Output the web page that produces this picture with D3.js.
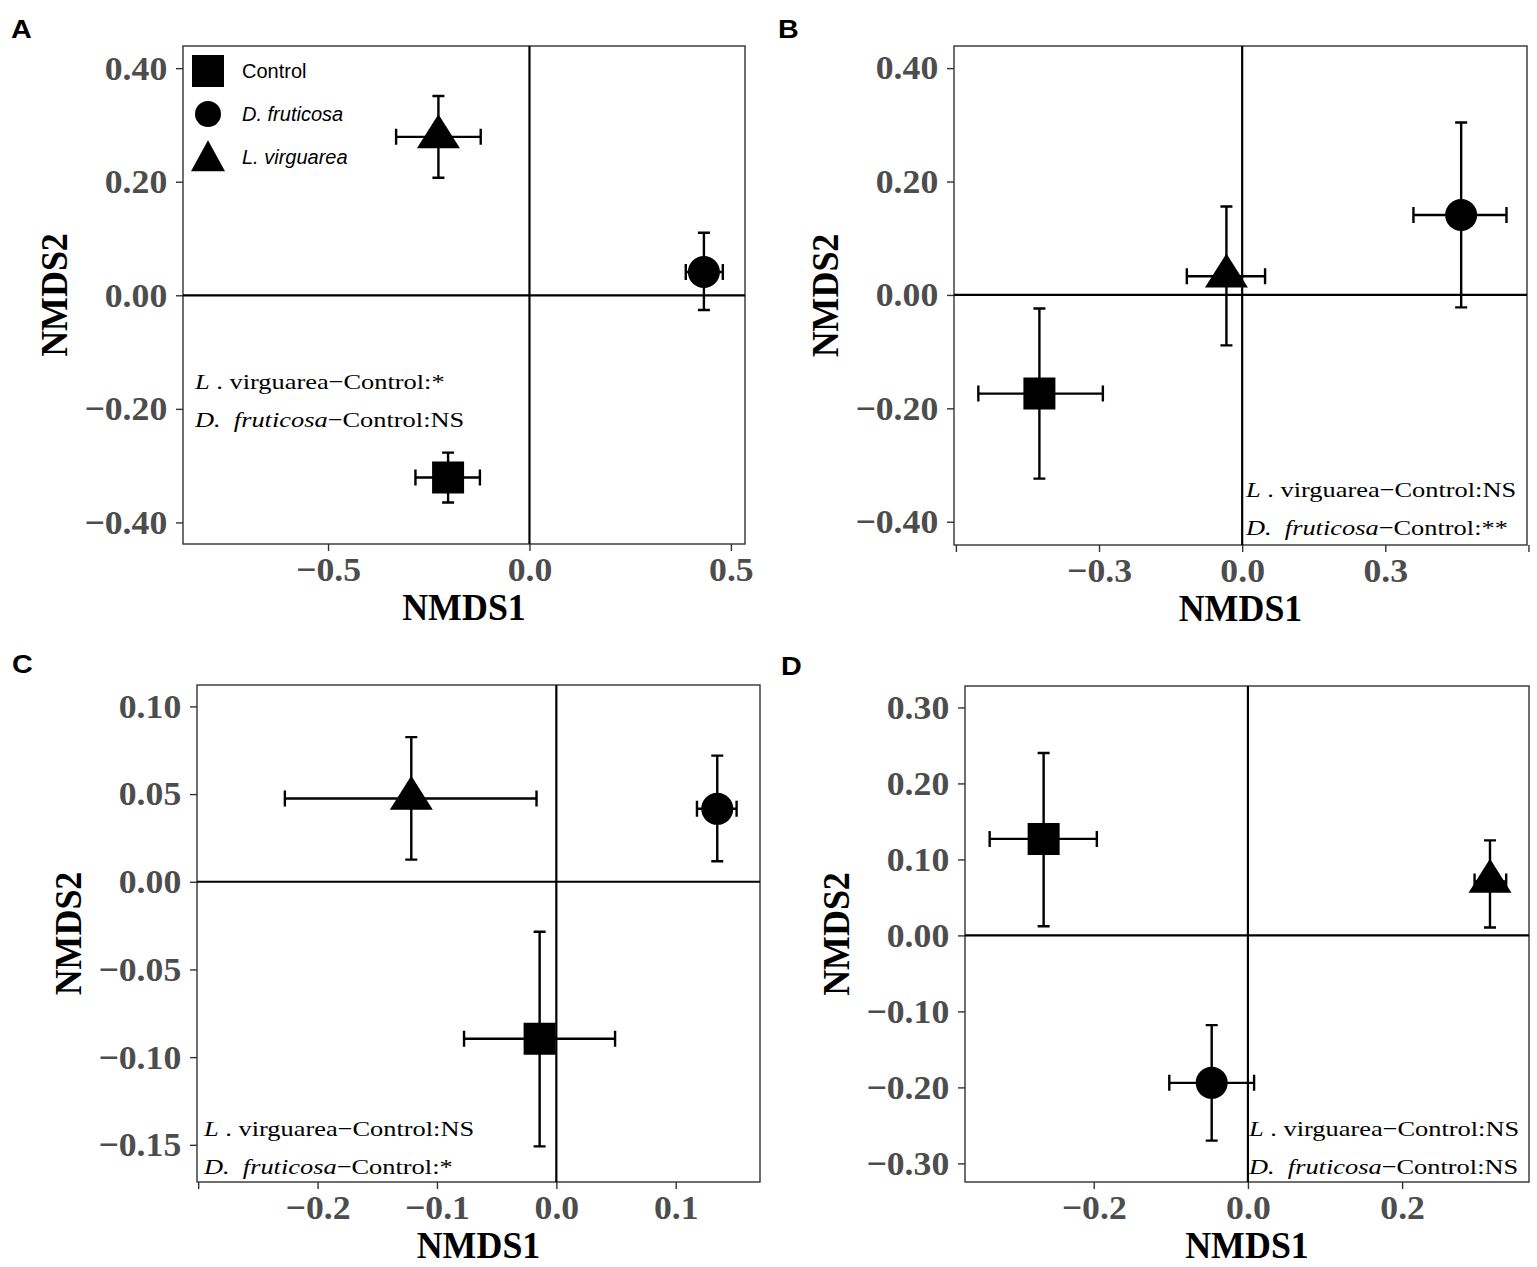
<!DOCTYPE html>
<html lang="en">
<head>
<meta charset="utf-8">
<title>NMDS</title>
<script src="https://d3js.org/d3.v7.min.js"></script>
<style>
  body { margin: 0; background: #fff; }
  .tick text { font-family: "Liberation Serif", "Times New Roman", serif; font-weight: bold; fill: #4d4d4d; }
  .tick line, .domain { stroke: #333; }
</style>
</head>
<body>
<div id="chart"></div>
<script>
"use strict"

// groups in every panel
var groups = ["Control", "D. fruticosa", "L. virguarea"];
var shapes = ["square", "circle", "triangle"];

// panel A  (order: Control, D. fruticosa, L. virguarea)
var aX   = [-0.202, 0.433, -0.226];
var aXlo = [-0.283, 0.388, -0.331];
var aXhi = [-0.123, 0.480, -0.121];
var aY   = [-0.321, 0.041, 0.279];
var aYlo = [-0.365, -0.026, 0.207];
var aYhi = [-0.277, 0.110, 0.351];

// panel B
var bX   = [-0.425, 0.459, -0.033];
var bXlo = [-0.553, 0.359, -0.116];
var bXhi = [-0.292, 0.554, 0.048];
var bY   = [-0.174, 0.141, 0.033];
var bYlo = [-0.324, -0.022, -0.089];
var bYhi = [-0.024, 0.304, 0.156];

// panel C
var cX   = [-0.014, 0.1348, -0.1215];
var cXlo = [-0.0773, 0.1178, -0.2274];
var cXhi = [0.0492, 0.151, -0.0166];
var cY   = [-0.0895, 0.0416, 0.0475];
var cYlo = [-0.1509, 0.0117, 0.0126];
var cYhi = [-0.0285, 0.0719, 0.0825];

// panel D
var dX   = [-0.265, -0.047, 0.314];
var dXlo = [-0.335, -0.102, 0.294];
var dXhi = [-0.196, 0.008, 0.335];
var dY   = [0.127, -0.194, 0.071];
var dYlo = [0.012, -0.270, 0.0105];
var dYhi = [0.240, -0.118, 0.125];

// ticks
var aXTicks = [-0.5, 0, 0.5],            aYTicks = [-0.4, -0.2, 0, 0.2, 0.4];
var bXTicks = [-0.6, -0.3, 0, 0.3, 0.6], bYTicks = [-0.4, -0.2, 0, 0.2, 0.4];
var cXTicks = [-0.3, -0.2, -0.1, 0, 0.1], cYTicks = [-0.15, -0.1, -0.05, 0, 0.05, 0.1];
var dXTicks = [-0.2, 0, 0.2],            dYTicks = [-0.3, -0.2, -0.1, 0, 0.1, 0.2, 0.3];

// significance notes
var sigL = ["*", "NS", "NS", "NS"];
var sigD = ["NS", "**", "*", "NS"];

var panels = [
  { tag: "A", x: aX, xlo: aXlo, xhi: aXhi, y: aY, ylo: aYlo, yhi: aYhi,
    xt: aXTicks, yt: aYTicks, xf: ".1f", yf: ".2f", hide: [],
    box: [183, 745, 46, 544], xd: [-0.860, 0.535], yd: [-0.438, 0.439],
    tagAt: [11, 38], note: [195, 389], legend: true },
  { tag: "B", x: bX, xlo: bXlo, xhi: bXhi, y: bY, ylo: bYlo, yhi: bYhi,
    xt: bXTicks, yt: bYTicks, xf: ".1f", yf: ".2f", hide: [-0.6, 0.6],
    box: [954, 1527, 46, 545], xd: [-0.604, 0.597], yd: [-0.441, 0.439],
    tagAt: [778, 38], note: [1246, 497] },
  { tag: "C", x: cX, xlo: cXlo, xhi: cXhi, y: cY, ylo: cYlo, yhi: cYhi,
    xt: cXTicks, yt: cYTicks, xf: ".1f", yf: ".2f", hide: [-0.3],
    box: [197, 760, 685, 1182], xd: [-0.301, 0.1706], yd: [-0.1712, 0.1122],
    tagAt: [12, 673], note: [204, 1136] },
  { tag: "D", x: dX, xlo: dXlo, xhi: dXhi, y: dY, ylo: dYlo, yhi: dYhi,
    xt: dXTicks, yt: dYTicks, xf: ".1f", yf: ".2f", hide: [],
    box: [965, 1529, 686, 1182], xd: [-0.367, 0.3646], yd: [-0.3245, 0.3282],
    tagAt: [781, 675], note: [1249, 1136] }
];

var svg = d3.select("#chart").append("svg")
  .attr("width", 1537).attr("height", 1267);

function shapePath(s, big) {
  if (s === "square") { var h = 16; return "M" + -h + "," + -h + "H" + h + "V" + h + "H" + -h + "Z"; }
  if (s === "circle") { var r = big ? 16 : 13; return d3.symbol(d3.symbolCircle, Math.PI * r * r)(); }
  var w = big ? 21.5 : 17, ht = big ? 34 : 31;
  return "M0," + (-ht * 2 / 3) + "L" + w + "," + (ht / 3) + "L" + -w + "," + (ht / 3) + "Z";
}

var serif = '"Liberation Serif", "Times New Roman", serif';
var sans = '"Liberation Sans", Arial, sans-serif';

panels.forEach(function (p, pi) {
  var L = p.box[0], R = p.box[1], T = p.box[2], B = p.box[3];
  var x = d3.scaleLinear().domain(p.xd).range([L, R]);
  var y = d3.scaleLinear().domain(p.yd).range([B, T]);

  // panel letter
  svg.append("text").attr("transform", "translate(" + p.tagAt[0] + "," + p.tagAt[1] + ") scale(1.15,1)")
    .style("font-family", sans).style("font-weight", "bold").style("font-size", "25px")
    .text(p.tag);

  // axes
  var fx = d3.format(p.xf), fy = d3.format(p.yf);
  var ax = svg.append("g").attr("transform", "translate(0," + B + ")")
    .call(d3.axisBottom(x).tickValues(p.xt).tickSize(7).tickPadding(6)
      .tickFormat(function (d) { return p.hide.indexOf(d) >= 0 ? "" : fx(d); }));
  var ay = svg.append("g").attr("transform", "translate(" + L + ",0)")
    .call(d3.axisLeft(y).tickValues(p.yt).tickSize(7).tickPadding(8).tickFormat(fy));
  [ax, ay].forEach(function (a) {
    a.select(".domain").remove();
    a.selectAll(".tick line").attr("stroke", "#333").attr("stroke-width", 1.4);
    a.selectAll(".tick text").style("font-size", "34px").attr("transform", "scale(1.05,1)");
  });

  // frame
  svg.append("rect").attr("x", L).attr("y", T).attr("width", R - L).attr("height", B - T)
    .attr("fill", "none").attr("stroke", "#333").attr("stroke-width", 1.4);

  // zero lines
  svg.append("line").attr("x1", L).attr("x2", R).attr("y1", y(0)).attr("y2", y(0))
    .attr("stroke", "#000").attr("stroke-width", 2.2);
  svg.append("line").attr("x1", x(0)).attr("x2", x(0)).attr("y1", T).attr("y2", B)
    .attr("stroke", "#000").attr("stroke-width", 2.2);

  // titles
  svg.append("text").attr("transform", "translate(" + ((L + R) / 2) + "," + (B + 76) + ") scale(0.97,1)")
    .attr("text-anchor", "middle").style("font-family", serif).style("font-weight", "bold")
    .style("font-size", "37px").text("NMDS1");
  svg.append("text").attr("transform", "translate(" + (L - 116) + "," + ((T + B) / 2) + ") rotate(-90) scale(0.97,1)")
    .attr("text-anchor", "middle").style("font-family", serif).style("font-weight", "bold")
    .style("font-size", "37px").text("NMDS2");

  // marks
  var g = svg.append("g");
  var idx = d3.range(groups.length);
  var err = g.selectAll(".err").data(idx).enter().append("g").attr("stroke", "#000")
    .attr("stroke-width", 2.4).attr("fill", "none");
  err.append("path").attr("d", function (i) {
    var yy = y(p.y[i]), x1 = x(p.xlo[i]), x2 = x(p.xhi[i]);
    return "M" + x1 + "," + yy + "H" + x2 +
      "M" + x1 + "," + (yy - 8) + "V" + (yy + 8) + "M" + x2 + "," + (yy - 8) + "V" + (yy + 8);
  });
  err.append("path").attr("d", function (i) {
    var xx = x(p.x[i]), y1 = y(p.ylo[i]), y2 = y(p.yhi[i]);
    return "M" + xx + "," + y1 + "V" + y2 +
      "M" + (xx - 6) + "," + y1 + "H" + (xx + 6) + "M" + (xx - 6) + "," + y2 + "H" + (xx + 6);
  });
  g.selectAll(".pt").data(idx).enter().append("path")
    .attr("transform", function (i) { return "translate(" + x(p.x[i]) + "," + y(p.y[i]) + ")"; })
    .attr("d", function (i) { return shapePath(shapes[i], true); })
    .attr("fill", "#000");

  // significance notes
  var n = svg.append("g").attr("transform", "translate(" + p.note[0] + "," + p.note[1] + ")")
    .style("font-family", serif).style("font-size", "22px");
  var t1 = n.append("text").attr("transform", "scale(1.2,1)");
  t1.append("tspan").style("font-style", "italic").text("L");
  t1.append("tspan").text("\u00a0. virguarea\u2212Control:" + sigL[pi]);
  var t2 = n.append("text").attr("y", 38).attr("transform", "scale(1.2,1)");
  t2.append("tspan").style("font-style", "italic").text("D.\u00a0\u00a0fruticosa");
  t2.append("tspan").text("\u2212Control:" + sigD[pi]);

  // legend
  if (p.legend) {
    var lg = svg.append("g").selectAll("g").data(idx).enter().append("g")
      .attr("transform", function (i) { return "translate(" + (L + 25) + "," + (71 + i * 43) + ")"; });
    lg.append("path").attr("d", function (i) { return shapePath(shapes[i], false); })
      .attr("transform", function (i) { return i === 2 ? "translate(0,4)" : null; })
      .attr("fill", "#000");
    lg.append("text").attr("x", 34).attr("y", 7).style("font-family", sans).style("font-size", "20px")
      .style("font-style", function (i) { return i === 0 ? "normal" : "italic"; })
      .text(function (i) { return groups[i]; });
  }
});
</script>
</body>
</html>
